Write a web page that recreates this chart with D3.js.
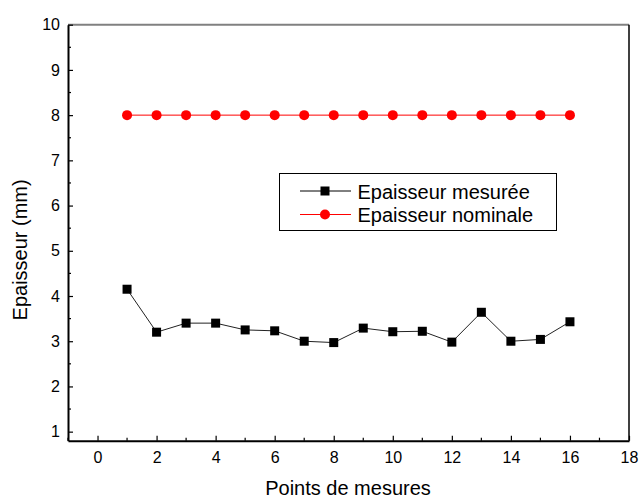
<!DOCTYPE html>
<meta charset="utf-8">
<style>
body { margin: 0; background: #fff; }
text { font-family: Arial, "Liberation Sans", sans-serif; fill: #000; }
</style>
<svg width="639" height="498"></svg>
<script src="https://d3js.org/d3.v7.min.js"></script>
<script>
var points = [1, 2, 3, 4, 5, 6, 7, 8, 9, 10, 11, 12, 13, 14, 15, 16];
var mesuree = [4.15, 3.2, 3.4, 3.4, 3.25, 3.23, 3.0, 2.97, 3.29, 3.21, 3.22, 2.98, 3.64, 3.0, 3.04, 3.43];
var nominale = [8, 8, 8, 8, 8, 8, 8, 8, 8, 8, 8, 8, 8, 8, 8, 8];
var xTicks = [0, 2, 4, 6, 8, 10, 12, 14, 16, 18];
var yTicks = [1, 2, 3, 4, 5, 6, 7, 8, 9, 10];
var seriesNames = ["Epaisseur mesurée", "Epaisseur nominale"];

var svg = d3.select("svg");
var plotLeft = 68, plotRight = 629, plotTop = 24.7, plotBottom = 440.7;

var x = d3.scaleLinear().domain([-1, 18]).range([plotLeft, plotRight]);
var y = d3.scaleLinear().domain([0.8, 10]).range([plotBottom, plotTop]);

// frame: top gray, right black
svg.append("line").attr("x1", plotLeft).attr("x2", plotRight).attr("y1", plotTop).attr("y2", plotTop)
  .attr("stroke", "#808080").attr("stroke-width", 2);
svg.append("line").attr("x1", plotRight).attr("x2", plotRight).attr("y1", plotTop).attr("y2", plotBottom)
  .attr("stroke", "#000").attr("stroke-width", 1.5);

// x axis, ticks inward
var xAxis = d3.axisBottom(x).tickValues(xTicks).tickSizeInner(-5).tickSizeOuter(0).tickPadding(11);
var gx = svg.append("g").attr("transform", "translate(0," + plotBottom + ")").call(xAxis);
var xMinor = d3.range(-1, 18, 2);
gx.selectAll(".minor").data(xMinor).enter().append("line")
  .attr("x1", function(d) { return x(d); }).attr("x2", function(d) { return x(d); })
  .attr("y1", 0).attr("y2", -3).attr("stroke", "#000").attr("stroke-width", 1.2);

// y axis
var yAxis = d3.axisLeft(y).tickValues(yTicks).tickSizeInner(-5).tickSizeOuter(0).tickPadding(8);
var gy = svg.append("g").attr("transform", "translate(" + plotLeft + ",0)").call(yAxis);
var yMinor = d3.range(1.5, 10, 1);
gy.selectAll(".minor").data(yMinor).enter().append("line")
  .attr("y1", function(d) { return y(d); }).attr("y2", function(d) { return y(d); })
  .attr("x1", 0).attr("x2", 3).attr("stroke", "#000").attr("stroke-width", 1.2);

[gx, gy].forEach(function(g) {
  g.select(".domain").attr("stroke-width", 2);
  g.selectAll(".tick line").attr("stroke-width", 1.2);
  g.selectAll(".tick text").style("font-size", "16px").style("font-family", "Arial, 'Liberation Sans', sans-serif");
});

// axis titles
svg.append("text").attr("x", 348).attr("y", 495).attr("text-anchor", "middle")
  .style("font-size", "20px").text("Points de mesures");
svg.append("text").attr("transform", "translate(27," + y(5.02) + ") rotate(-90)")
  .attr("text-anchor", "middle").style("font-size", "20px").text("Epaisseur (mm)");

var line = d3.line().x(function(d) { return x(d[0]); }).y(function(d) { return y(d[1]); });

var dataM = points.map(function(p, i) { return [p, mesuree[i]]; });
var dataN = points.map(function(p, i) { return [p, nominale[i]]; });

svg.append("path").datum(dataN).attr("d", line).attr("fill", "none").attr("stroke", "#ff0000").attr("stroke-width", 1);
svg.selectAll(".dotN").data(dataN).enter().append("circle")
  .attr("cx", function(d) { return x(d[0]); }).attr("cy", function(d) { return y(d[1]); })
  .attr("r", 5).attr("fill", "#ff0000");

svg.append("path").datum(dataM).attr("d", line).attr("fill", "none").attr("stroke", "#222").attr("stroke-width", 1);
svg.selectAll(".sqM").data(dataM).enter().append("rect")
  .attr("x", function(d) { return x(d[0]) - 4.5; }).attr("y", function(d) { return y(d[1]) - 4.5; })
  .attr("width", 9).attr("height", 9).attr("fill", "#000");

// legend
var lg = svg.append("g");
lg.append("rect").attr("x", 279.5).attr("y", 173.5).attr("width", 277).attr("height", 57)
  .attr("fill", "#fff").attr("stroke", "#000").attr("stroke-width", 1);
var rows = [191, 214.5];
var colors = ["#000", "#ff0000"];
rows.forEach(function(ry, i) {
  lg.append("line").attr("x1", 300).attr("x2", 351).attr("y1", ry).attr("y2", ry)
    .attr("stroke", colors[i]).attr("stroke-width", 1);
  if (i === 0) {
    lg.append("rect").attr("x", 325 - 4.5).attr("y", ry - 4.5).attr("width", 9).attr("height", 9).attr("fill", "#000");
  } else {
    lg.append("circle").attr("cx", 325).attr("cy", ry).attr("r", 5).attr("fill", "#ff0000");
  }
  lg.append("text").attr("x", 357.5).attr("y", ry + 7.5).style("font-size", "20px").text(seriesNames[i]);
});
</script>
